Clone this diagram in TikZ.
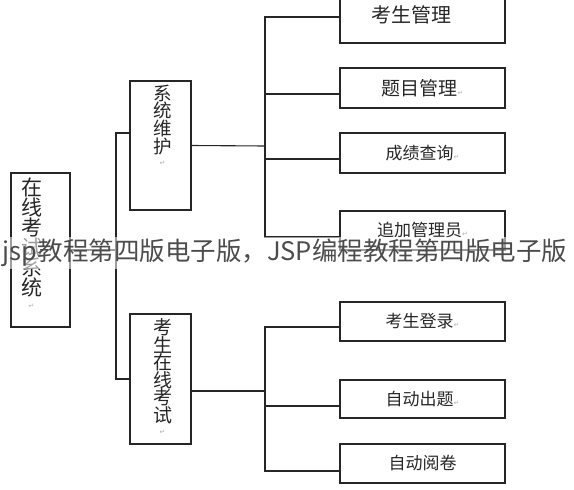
\documentclass[tikz,border=0pt]{standalone}
\usepackage{fontspec}
\usepackage{xcolor}
\usepackage{tikz}
\usetikzlibrary{positioning}
\setmainfont{Noto Sans CJK SC}
\newfontfamily\symfont{DejaVu Sans}
\newcommand{\parmark}{{\symfont\color{gray!60}\fontsize{7}{7}\selectfont ↵}}

\begin{document}
\begin{tikzpicture}[x=1pt, y=-1pt,
      box/.style={draw=black!85, line width=1.1pt, minimum width=165pt, minimum height=40pt, inner sep=0pt},
      midbox/.style={draw=black!85, line width=1.1pt, minimum width=61pt, inner sep=0pt},
      vtext/.style={anchor=north, align=center, inner sep=0pt, text=black!85},
      htext/.style={text=black!85, font=\fontsize{17}{17}\selectfont},
      line/.style={black!85, line width=1.1pt},
      wmark/.style={fill=white, fill opacity=0.55, text opacity=1, text=black!70, inner sep=2pt, font=\fontsize{25.5}{25.5}\selectfont},
    ]
    \useasboundingbox (0,0) rectangle (574,490);

    % root and second level
    \node[midbox, minimum width=59pt, minimum height=154pt] (root) at (40.5,250) {};
    \node[vtext, font=\fontsize{21}{20}\selectfont, below=5pt of root.north, xshift=-9pt] (root_t) {在\\线\\考\\试\\系\\统\\[-7pt]\parmark};

    \node[midbox, minimum height=129pt] (maint) at (160.5,145.5) {};
    \node[vtext, font=\fontsize{18.5}{16.5}\selectfont, below=4pt of maint.north, xshift=2pt] (maint_t) {系\\统\\维\\护\\[-5pt]\parmark};

    \node[midbox, minimum height=130pt] (exam) at (160.5,379) {};
    \node[vtext, font=\fontsize{19}{17.5}\selectfont, below=5pt of exam.north, xshift=2pt] (exam_t) {考\\生\\在\\线\\考\\试\\[-5pt]\parmark};

    % leaves
    \node[box, minimum height=45pt] (stud) at (422.5,20.5) {};
    \node[htext, font=\fontsize{20}{20}\selectfont] (stud_t) at (411,15) {考生管理};
    \node[box, htext, font=\fontsize{19}{19}\selectfont] (ques) at (422.5,88) {题目管理\parmark};
    \node[box, htext] (score) at (422.5,153) {成绩查询\parmark};
    \node[box, htext, minimum height=39pt] (admin) at (422.5,230.5) {追加管理员\parmark};

    \node[box, htext, minimum height=39pt] (login) at (422.5,321.5) {考生登录\parmark};
    \node[box, htext, minimum height=38pt] (auto) at (422.5,399) {自动出题\parmark};
    \node[box, htext, minimum height=39pt] (grade) at (422.5,463.5) {自动阅卷};

    % spines
    \coordinate (lsp) at (116,250);
    \coordinate (rsp1) at (265,146);
    \coordinate (rsp2) at (265,391);

    \draw[line] (root.east) -- (lsp);
    \draw[line] ([yshift=12.5pt]maint.west) -| (lsp) |- (exam.west);

    \draw[line] (maint.east) -- (rsp1);
    \coordinate (j1) at ([yshift=3.5pt]stud.west);
    \coordinate (j2) at ([yshift=-6pt]ques.west);
    \coordinate (j3) at ([yshift=-6pt]score.west);
    \coordinate (j4) at ([yshift=-6.5pt]admin.west);
    \draw[line] (j1) -| (rsp1) |- (j4);
    \draw[line] (j2) -- (j2 -| rsp1);
    \draw[line] (j3) -- (j3 -| rsp1);

    \draw[line] ([yshift=-12pt]exam.east) -- (rsp2);
    \coordinate (j5) at ([yshift=-5.5pt]login.west);
    \coordinate (j6) at ([yshift=-7pt]auto.west);
    \coordinate (j7) at ([yshift=-7.5pt]grade.west);
    \draw[line] (j5) -| (rsp2) |- (j7);
    \draw[line] (j6) -- (j6 -| rsp2);

    % overlay text
    \node[wmark] (wm) at (285,253) {jsp教程第四版电子版，JSP编程教程第四版电子版};
  \end{tikzpicture}
\end{document}
